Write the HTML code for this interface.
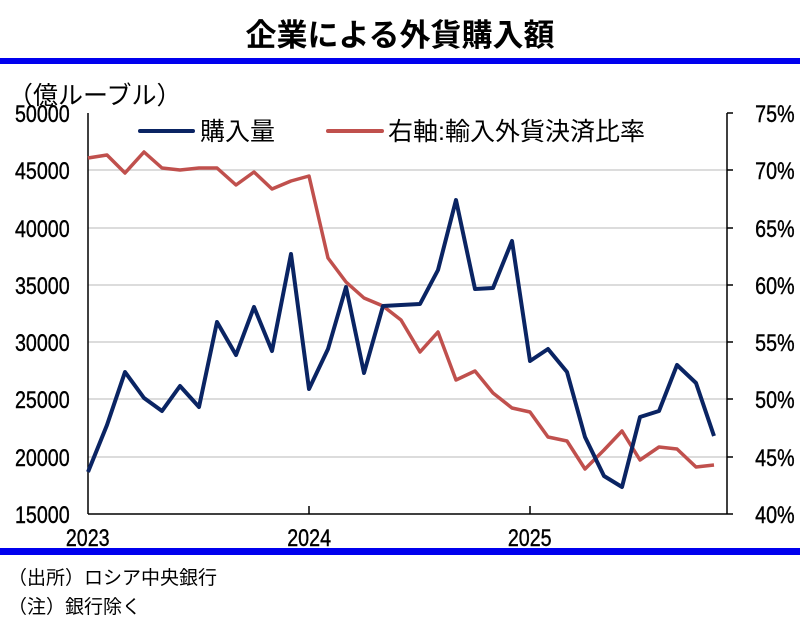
<!DOCTYPE html>
<html><head><meta charset="utf-8"><style>
body{margin:0;background:#fff;}
svg{display:block;font-family:"Liberation Sans","Noto Sans CJK JP",sans-serif;}
</style></head><body>
<svg width="800" height="633" xmlns="http://www.w3.org/2000/svg">
<rect width="800" height="633" fill="#fff"/>
<text x="400" y="46" text-anchor="middle" font-size="31" font-weight="bold" fill="#000">企業による外貨購入額</text>
<rect x="0" y="58" width="800" height="6" fill="#0000ee"/>
<text x="8" y="104" font-size="25" fill="#000">（億ルーブル）</text>
<g stroke="#d0d0d0" stroke-width="1.5">
<line x1="88" y1="170" x2="727" y2="170"/><line x1="88" y1="228" x2="727" y2="228"/>
<line x1="88" y1="285" x2="727" y2="285"/><line x1="88" y1="342" x2="727" y2="342"/>
<line x1="88" y1="399" x2="727" y2="399"/><line x1="88" y1="457" x2="727" y2="457"/>
</g>
<g stroke="#000" stroke-width="1.5" fill="none">
<line x1="88" y1="113" x2="88" y2="514"/>
<line x1="727" y1="113" x2="727" y2="514"/>
<line x1="88" y1="514" x2="727" y2="514"/>
<line x1="309" y1="506" x2="309" y2="514"/><line x1="530" y1="506" x2="530" y2="514"/>
<line x1="727" y1="113" x2="733" y2="113"/><line x1="727" y1="170" x2="733" y2="170"/><line x1="727" y1="228" x2="733" y2="228"/><line x1="727" y1="285" x2="733" y2="285"/><line x1="727" y1="342" x2="733" y2="342"/><line x1="727" y1="399" x2="733" y2="399"/><line x1="727" y1="457" x2="733" y2="457"/><line x1="727" y1="514" x2="733" y2="514"/>
</g>
<g font-size="24" fill="#000" text-anchor="end" transform="scale(0.82,1)" stroke="#000" stroke-width="0.4">
<text x="85" y="122">50000</text><text x="85" y="179">45000</text><text x="85" y="237">40000</text><text x="85" y="294">35000</text><text x="85" y="351">30000</text><text x="85" y="408">25000</text><text x="85" y="466">20000</text><text x="85" y="523">15000</text>
</g>
<g font-size="24" fill="#000" text-anchor="end" transform="scale(0.82,1)" stroke="#000" stroke-width="0.4">
<text x="969" y="122">75%</text><text x="969" y="179">70%</text><text x="969" y="237">65%</text><text x="969" y="294">60%</text><text x="969" y="351">55%</text><text x="969" y="408">50%</text><text x="969" y="466">45%</text><text x="969" y="523">40%</text>
</g>
<g font-size="24" fill="#000" text-anchor="middle" transform="scale(0.82,1)" stroke="#000" stroke-width="0.4">
<text x="107" y="546">2023</text><text x="377" y="546">2024</text><text x="646" y="546">2025</text>
</g>
<line x1="140" y1="131" x2="193" y2="131" stroke="#0a2463" stroke-width="4" stroke-linecap="round"/>
<text x="200" y="140" font-size="25">購入量</text>
<line x1="328" y1="131" x2="382" y2="131" stroke="#c0504d" stroke-width="4" stroke-linecap="round"/>
<text x="388" y="140" font-size="25">右軸:輸入外貨決済比率</text>
<polyline fill="none" stroke="#c0504d" stroke-width="3.5" stroke-linejoin="round" points="88,158 107,155 125,173 144,152 162,168 180,170 199,168 217,168 236,185 254,172 272,189 291,181 309,176 328,258 346,282 364,298 383,306 401,320 420,352 438,332 456,380 475,371 493,393 512,408 530,412 548,437 567,441 585,469 604,450 622,431 640,460 659,447 677,449 696,467 714,465"/>
<polyline fill="none" stroke="#0a2463" stroke-width="4" stroke-linejoin="round" points="88,472 107,425 125,372 144,398 162,411 180,386 199,407 217,322 236,355 254,307 272,351 291,254 309,389 328,349 346,287 364,373 383,306 401,305 420,304 438,270 456,200 475,289 493,288 512,241 530,361 548,349 567,372 585,437 604,476 622,487 640,417 659,411 677,365 696,383 714,436"/>
<rect x="0" y="548" width="800" height="7" fill="#0000ee"/>
<text x="8" y="584" font-size="19">（出所）ロシア中央銀行</text>
<text x="8" y="613" font-size="19">（注）銀行除く</text>
</svg>
</body></html>
